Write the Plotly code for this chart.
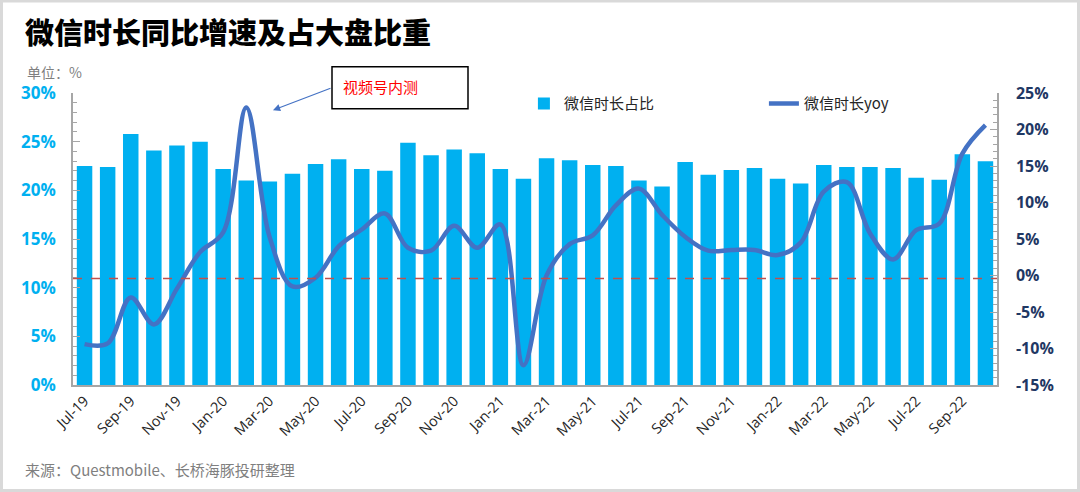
import plotly.graph_objects as go

months = ["Jul-19", "Aug-19", "Sep-19", "Oct-19", "Nov-19", "Dec-19",
          "Jan-20", "Feb-20", "Mar-20", "Apr-20", "May-20", "Jun-20",
          "Jul-20", "Aug-20", "Sep-20", "Oct-20", "Nov-20", "Dec-20",
          "Jan-21", "Feb-21", "Mar-21", "Apr-21", "May-21", "Jun-21",
          "Jul-21", "Aug-21", "Sep-21", "Oct-21", "Nov-21", "Dec-21",
          "Jan-22", "Feb-22", "Mar-22", "Apr-22", "May-22", "Jun-22",
          "Jul-22", "Aug-22", "Sep-22", "Oct-22"]

share = [22.5, 22.4, 25.8, 24.1, 24.6, 25.0,
         22.2, 21.0, 20.9, 21.7, 22.7, 23.2,
         22.2, 22.0, 24.9, 23.6, 24.2, 23.8,
         22.2, 21.2, 23.3, 23.1, 22.6, 22.5,
         21.0, 20.4, 22.9, 21.6, 22.1, 22.3,
         21.2, 20.7, 22.6, 22.4, 22.4, 22.3,
         21.3, 21.1, 23.7, 23.0]

yoy = [-9.4, -9.3, -3.0, -6.7, -1.8, 3.2,
       5.9, 23.0, 5.4, -1.5, -0.3, 4.0,
       6.3, 8.5, 3.8, 3.4, 6.8, 3.8,
       7.0, -12.3, 0.0, 4.3, 5.5, 9.6,
       11.9, 8.3, 5.3, 3.4, 3.5, 3.5,
       2.8, 4.5, 11.5, 12.8, 5.8, 2.2,
       6.2, 7.1, 16.7, 20.6]

left_ticks = [0, 5, 10, 15, 20, 25, 30]
right_ticks = [-15, -10, -5, 0, 5, 10, 15, 20, 25]
baseline_yoy = -0.4

CJK = "Noto Sans CJK SC"
LAT = "Open Sans"

fig = go.Figure()
fig.add_trace(go.Bar(x=months, y=share, name="微信时长占比",
                     marker=dict(color="#00B0F0", line=dict(width=0))))
fig.add_trace(go.Scatter(x=months, y=yoy, name="微信时长yoy", yaxis="y2",
                         mode="lines",
                         line=dict(color="#4472C4", width=4.5, shape="spline", smoothing=1.0)))

axis_grey = "#A6A6A6"

fig.update_layout(
    width=1080, height=492,
    margin=dict(l=73, r=83, t=93, b=107),
    paper_bgcolor="white", plot_bgcolor="white",
    bargap=0.33,
    showlegend=True,
    legend=dict(orientation="h", x=0.488, y=0.963, xanchor="left", yanchor="middle",
                font=dict(family=CJK, size=15, color="#262626"),
                bgcolor="rgba(0,0,0,0)", entrywidth=195, entrywidthmode="pixels",
                traceorder="normal"),
    title=dict(text="微信时长同比增速及占大盘比重", x=25/1080, xref="container",
               xanchor="left", y=1 - 34/492, yref="container", yanchor="middle",
               font=dict(family=CJK, size=29, color="#000000", weight=900)),
    xaxis=dict(type="category", categoryorder="array", categoryarray=months,
               range=[-0.5, len(months) - 0.5],
               tickvals=months[::2], ticktext=months[::2], tickangle=-45,
               tickfont=dict(family=LAT, size=14.5, color="#262626"),
               showline=True, linecolor=axis_grey, linewidth=1.5, ticks="",
               showgrid=False, zeroline=False),
    yaxis=dict(range=[0, 30], tickvals=left_ticks,
               ticktext=[f"<b>{v}%</b>" for v in left_ticks],
               tickfont=dict(family=LAT, size=17, color="#00B0F0"),
               showline=True, linecolor=axis_grey, linewidth=1.5,
               ticks="inside", ticklen=7, tickcolor=axis_grey, tickwidth=1,
               minor=dict(dtick=1, ticks="inside", ticklen=4, tickcolor=axis_grey, showgrid=False),
               ticklabelstandoff=12,
               showgrid=False, zeroline=False),
    yaxis2=dict(range=[-15, 25], overlaying="y", side="right", tickvals=right_ticks,
                ticktext=[f"<b>{v}%</b>" for v in right_ticks],
                tickfont=dict(family=LAT, size=16, color="#1F3864"),
                showline=True, linecolor=axis_grey, linewidth=1.5,
                ticks="inside", ticklen=7, tickcolor=axis_grey, tickwidth=1,
                minor=dict(dtick=1, ticks="inside", ticklen=4, tickcolor=axis_grey, showgrid=False),
                ticklabelstandoff=14,
                showgrid=False, zeroline=False),
)

# zero line of yoy axis
fig.add_shape(type="line", xref="paper", yref="y2", x0=0, x1=1, y0=baseline_yoy, y1=baseline_yoy,
              line=dict(color="#C0504D", width=1.5, dash="dash"))

# annotation box
fig.add_shape(type="rect", xref="paper", yref="paper",
              x0=(332 - 73) / 924, x1=(468 - 73) / 924,
              y0=(385 - 109) / 291.7, y1=(385 - 67) / 291.7,
              line=dict(color="#000000", width=1.5), fillcolor="white", layer="above")
fig.add_annotation(xref="paper", yref="paper", x=(341 - 73) / 924, y=(385 - 87) / 291.7,
                   xanchor="left", yanchor="middle", showarrow=False,
                   text="视频号内测", font=dict(family=CJK, size=15, color="#FF0000"))
fig.add_annotation(xref="paper", yref="paper", x=(273 - 73) / 924, y=(385 - 110.5) / 291.7,
                   ax=332 - 273, ay=88 - 110.5, axref="pixel", ayref="pixel",
                   text="", showarrow=True, arrowhead=2, arrowsize=1.2, arrowwidth=1.2,
                   arrowcolor="#4472C4", standoff=0)

# unit & source
fig.add_annotation(xref="paper", yref="paper", x=(25 - 73) / 924, y=(385 - 72) / 291.7,
                   xanchor="left", yanchor="middle", showarrow=False,
                   text="单位：%", font=dict(family=CJK, size=14, color="#7F7F7F"))
fig.add_annotation(xref="paper", yref="paper", x=(23 - 73) / 924, y=(385 - 469) / 291.7,
                   xanchor="left", yanchor="middle", showarrow=False,
                   text="来源：Questmobile、长桥海豚投研整理",
                   font=dict(family=CJK, size=15, color="#7F7F7F"))

# outer frame
fig.add_shape(type="rect", xref="paper", yref="paper",
              x0=(1.5 - 73) / 924, x1=(1078.5 - 73) / 924,
              y0=(385 - 490.5) / 291.7, y1=(385 - 1.5) / 291.7,
              line=dict(color="#D9D9D9", width=3))

fig.write_html("out.html", config={"displayModeBar": False},
               post_script="document.body.style.margin='0';document.body.style.overflow='hidden';")
